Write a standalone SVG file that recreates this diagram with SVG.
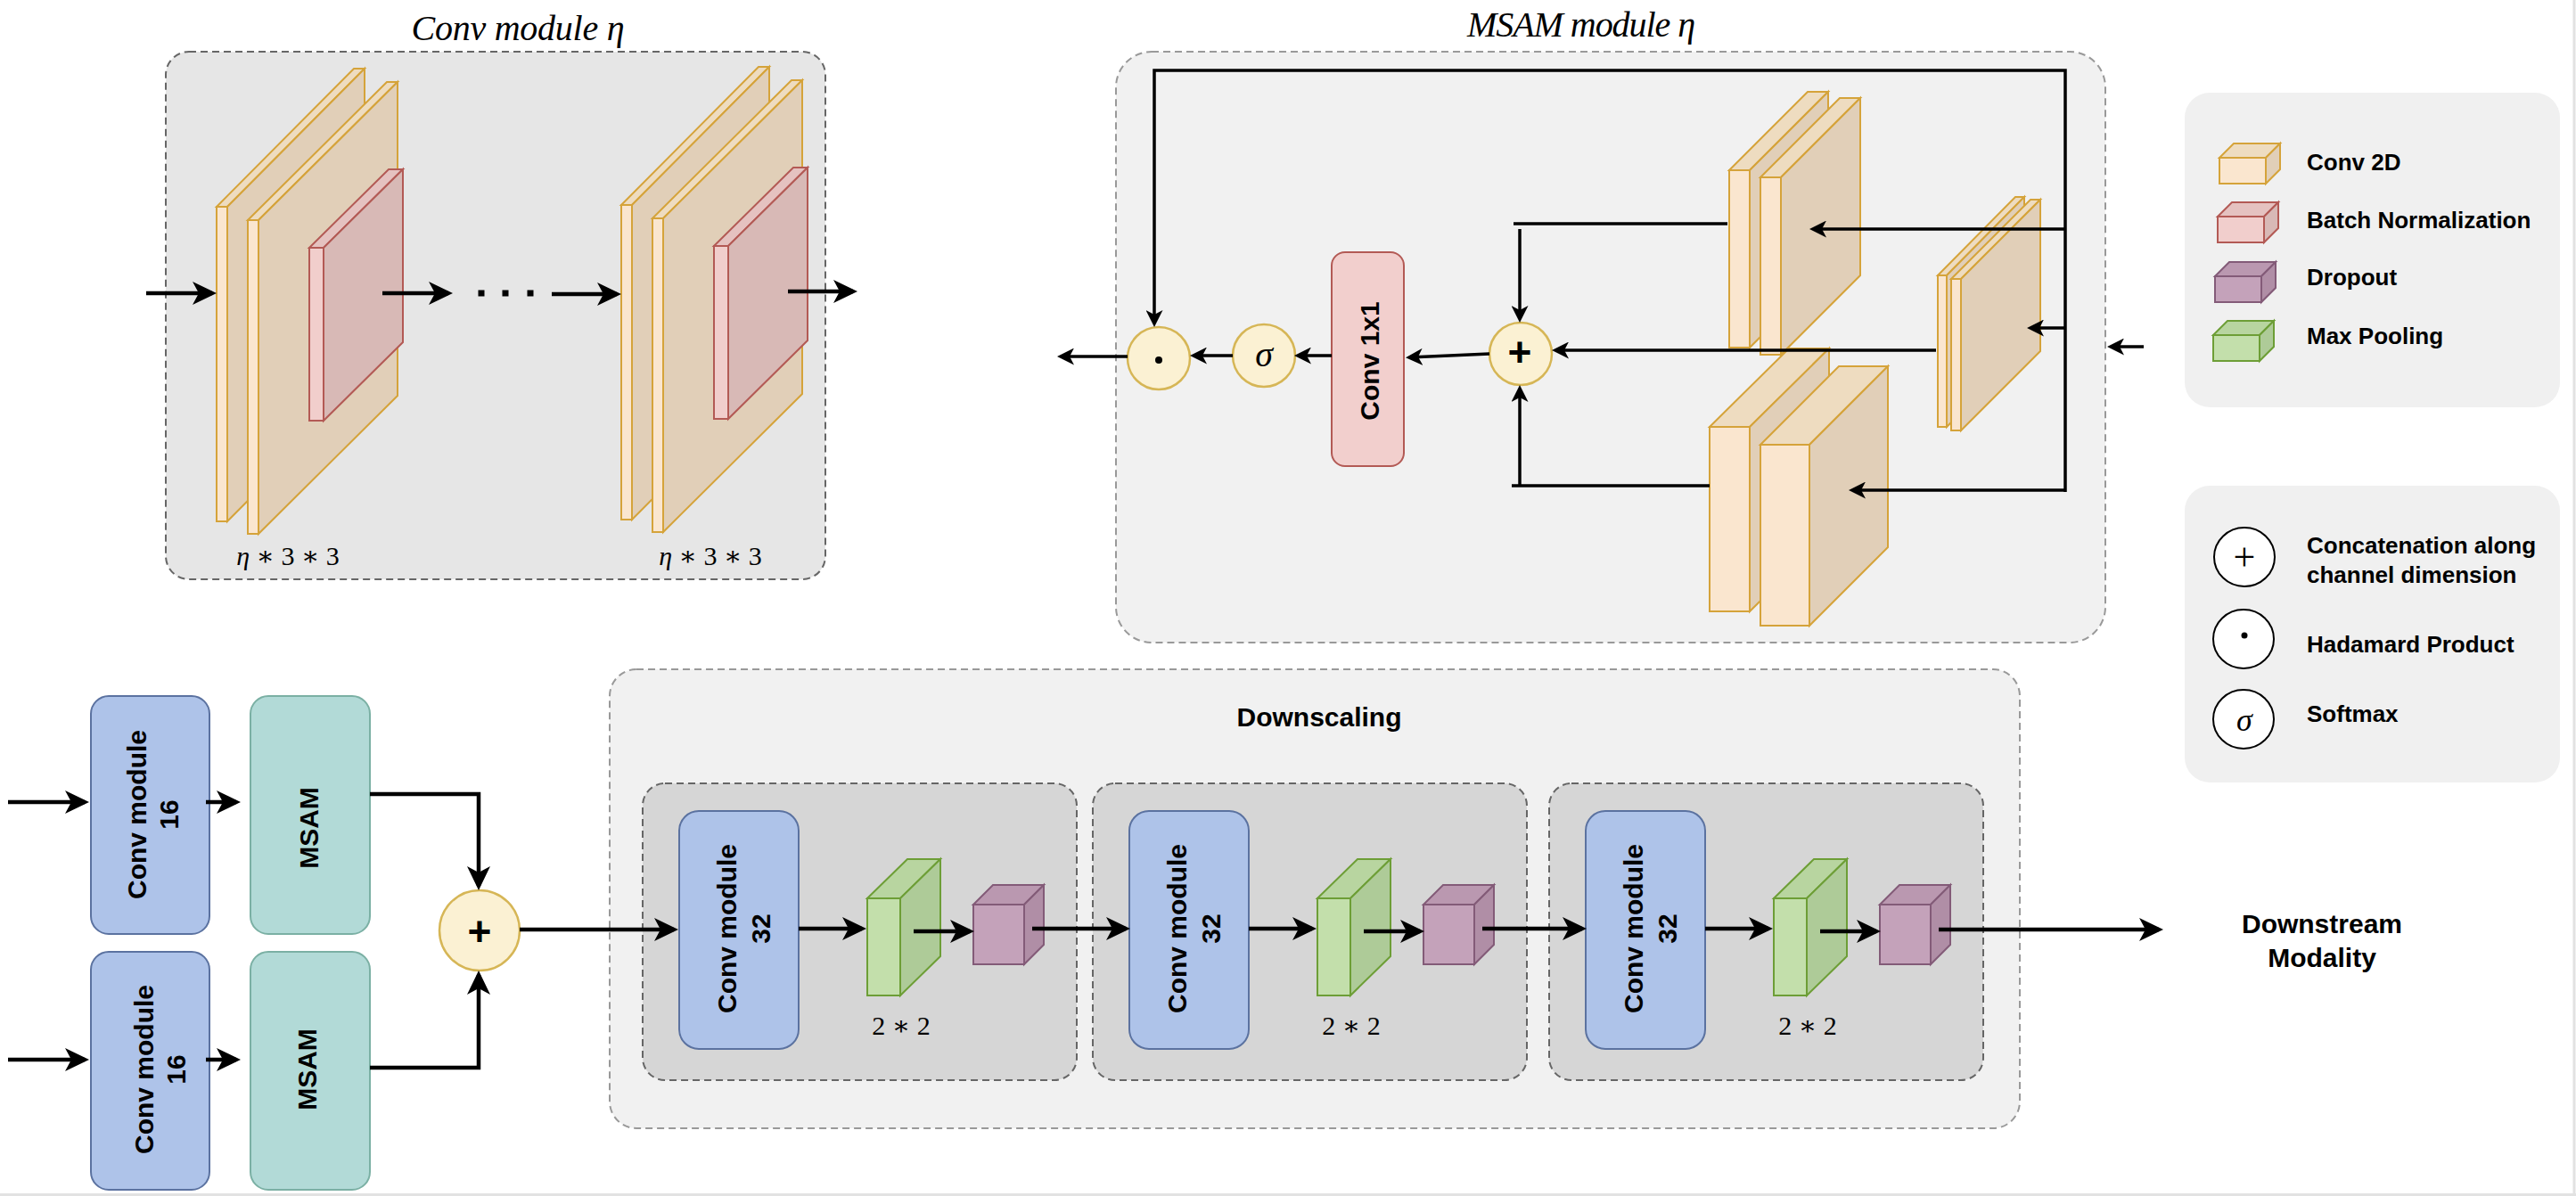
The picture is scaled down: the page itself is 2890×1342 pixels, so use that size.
<svg xmlns="http://www.w3.org/2000/svg" width="2890" height="1342" viewBox="0 0 2890 1342">
<style>
.sans{font-family:"Liberation Sans",Arial,sans-serif;font-weight:bold;fill:#000}
.serif{font-family:"Liberation Serif","DejaVu Serif",serif;fill:#000}
.it{font-style:italic}
.cf{fill:#FAE6CF;stroke:#D5A33A;stroke-width:2}
.ct{fill:#EEDCC0;stroke:#D5A33A;stroke-width:2}
.cs{fill:#E1CFB8;stroke:#D5A33A;stroke-width:2}
.rf{fill:#F1CECC;stroke:#B35A55;stroke-width:2}
.rt{fill:#E5C2C0;stroke:#B35A55;stroke-width:2}
.rs{fill:#D8B9B6;stroke:#B35A55;stroke-width:2}
.gf{fill:#C3DFAB;stroke:#6D9E36;stroke-width:2}
.gt{fill:#B8D5A0;stroke:#6D9E36;stroke-width:2}
.gs{fill:#AECB98;stroke:#6D9E36;stroke-width:2}
.pf{fill:#C4A2BA;stroke:#835B78;stroke-width:2}
.pt{fill:#BA98B0;stroke:#835B78;stroke-width:2}
.ps{fill:#B08EA6;stroke:#835B78;stroke-width:2}
.blue{fill:#AEC3E9;stroke:#5B72A0;stroke-width:2}
.teal{fill:#B2DAD7;stroke:#7BB0A4;stroke-width:2}
.yc{fill:#FBF1D3;stroke:#D6B656;stroke-width:2.5}
.lc{fill:#fff;stroke:#000;stroke-width:2}
.big{fill:none;stroke:#000;stroke-width:4.5}
.sm{fill:none;stroke:#000;stroke-width:3.5}
</style>
<defs>
<marker id="a" markerUnits="userSpaceOnUse" markerWidth="27" markerHeight="26" viewBox="0 0 27 26" refX="22" refY="13" orient="auto"><path d="M0,0 L27,13 L0,26 L7,13 Z" fill="#000"/></marker>
<marker id="s" markerUnits="userSpaceOnUse" markerWidth="19" markerHeight="19" viewBox="0 0 19 19" refX="15" refY="9.5" orient="auto"><path d="M0,0 L19,9.5 L0,19 L5,9.5 Z" fill="#000"/></marker>
</defs>
<rect x="0" y="0" width="2890" height="1342" fill="#fff"/>
<line x1="2888" y1="0" x2="2888" y2="1342" stroke="#E2E2E2" stroke-width="3"/>
<line x1="0" y1="1340.5" x2="2890" y2="1340.5" stroke="#E2E2E2" stroke-width="3"/>

<!-- Conv module eta -->
<g id="conv-module">
<text class="serif it" x="581" y="45" font-size="40" text-anchor="middle" textLength="239">Conv module η</text>
<rect x="186" y="58" width="740" height="592" rx="26" fill="#E6E6E6" stroke="#666" stroke-width="2" stroke-dasharray="8 5"/>
<g id="conv-stack-1">
<path class="ct" d="M243,232 L397,77 L409,77 L255,232 Z"/>
<path class="cs" d="M255,232 L409,77 L409,430 L255,585 Z"/>
<rect class="cf" x="243" y="232" width="12" height="353"/>
<path class="ct" d="M278,247 L434,92 L446,92 L290,247 Z"/>
<path class="cs" d="M290,247 L446,92 L446,444 L290,599 Z"/>
<rect class="cf" x="278" y="247" width="12" height="352"/>
<path class="rt" d="M347,278 L436,190 L452,190 L363,278 Z"/>
<path class="rs" d="M363,278 L452,190 L452,384 L363,472 Z"/>
<rect class="rf" x="347" y="278" width="16" height="194"/>
</g>
<g id="conv-stack-2" transform="translate(454,-2)">
<path class="ct" d="M243,232 L397,77 L409,77 L255,232 Z"/>
<path class="cs" d="M255,232 L409,77 L409,430 L255,585 Z"/>
<rect class="cf" x="243" y="232" width="12" height="353"/>
<path class="ct" d="M278,247 L434,92 L446,92 L290,247 Z"/>
<path class="cs" d="M290,247 L446,92 L446,444 L290,599 Z"/>
<rect class="cf" x="278" y="247" width="12" height="352"/>
<path class="rt" d="M347,278 L436,190 L452,190 L363,278 Z"/>
<path class="rs" d="M363,278 L452,190 L452,384 L363,472 Z"/>
<rect class="rf" x="347" y="278" width="16" height="194"/>
</g>
<text class="serif" x="323" y="634" font-size="30" text-anchor="middle"><tspan class="it">η</tspan> ∗ 3 ∗ 3</text>
<text class="serif" x="797" y="634" font-size="30" text-anchor="middle"><tspan class="it">η</tspan> ∗ 3 ∗ 3</text>
<rect x="536.5" y="325.5" width="7" height="7" fill="#000"/>
<rect x="563.5" y="325.5" width="7" height="7" fill="#000"/>
<rect x="591.5" y="325.5" width="7" height="7" fill="#000"/>
</g>

<!-- MSAM module eta -->
<g id="msam-module">
<text class="serif it" x="1774" y="41" font-size="40" text-anchor="middle" textLength="256">MSAM module η</text>
<rect x="1252" y="58" width="1110" height="663" rx="40" fill="#F1F1F1" stroke="#999" stroke-width="2" stroke-dasharray="8 5"/>
<g id="msam-stack-bottom">
<path class="ct" d="M1918,479 L2007,391 L2052,391 L1963,479 Z"/>
<path class="cs" d="M1963,479 L2052,391 L2052,598 L1963,686 Z"/>
<rect class="cf" x="1918" y="479" width="45" height="207"/>
<path class="ct" d="M1975,499 L2063,411 L2118,411 L2030,499 Z"/>
<path class="cs" d="M2030,499 L2118,411 L2118,614 L2030,702 Z"/>
<rect class="cf" x="1975" y="499" width="55" height="203"/>
</g>
<g id="msam-stack-top">
<path class="ct" d="M1940,191 L2028,103 L2051,103 L1963,191 Z"/>
<path class="cs" d="M1963,191 L2051,103 L2051,302 L1963,390 Z"/>
<rect class="cf" x="1940" y="191" width="23" height="199"/>
<path class="ct" d="M1975,199 L2064,110 L2087,110 L1998,199 Z"/>
<path class="cs" d="M1998,199 L2087,110 L2087,309 L1998,398 Z"/>
<rect class="cf" x="1975" y="199" width="23" height="199"/>
</g>
<g id="msam-stack-middle">
<path class="ct" d="M2174,309 L2261,221 L2271,221 L2184,309 Z"/>
<path class="cs" d="M2184,309 L2271,221 L2271,391 L2184,479 Z"/>
<rect class="cf" x="2174" y="309" width="10" height="170"/>
<path class="ct" d="M2189,313 L2278,224 L2289,224 L2200,313 Z"/>
<path class="cs" d="M2200,313 L2289,224 L2289,394 L2200,483 Z"/>
<rect class="cf" x="2189" y="313" width="11" height="170"/>
</g>
<g id="conv1x1">
<rect x="1494" y="283" width="81" height="240" rx="15" fill="#F2CFCD" stroke="#B35A55" stroke-width="2"/>
<text class="sans" font-size="30" text-anchor="middle" transform="translate(1534.5,405) rotate(-90)" x="0" y="12">Conv 1x1</text>
</g>
<g id="msam-concat">
<circle class="yc" cx="1706" cy="397" r="35"/>
<text class="sans" x="1705" y="411" font-size="46" text-anchor="middle">+</text>
</g>
<g id="msam-softmax">
<circle class="yc" cx="1418" cy="399" r="35"/>
<text class="serif it" x="1418" y="411" font-size="40" text-anchor="middle">σ</text>
</g>
<g id="msam-hadamard">
<circle class="yc" cx="1300" cy="402" r="35"/>
<circle cx="1300" cy="404" r="4" fill="#000"/>
</g>
</g>

<!-- Legends -->
<g id="legend-layers">
<rect x="2451" y="104" width="421" height="353" rx="28" fill="#F0F0F0"/>
<path class="ct" d="M2490,177 L2506,161 L2558,161 L2542,177 Z"/>
<path class="cs" d="M2542,177 L2558,161 L2558,190 L2542,206 Z"/>
<rect class="cf" x="2490" y="177" width="52" height="29"/>
<path class="rt" d="M2488,243 L2504,227 L2556,227 L2540,243 Z"/>
<path class="rs" d="M2540,243 L2556,227 L2556,256 L2540,272 Z"/>
<rect class="rf" x="2488" y="243" width="52" height="29"/>
<path class="pt" d="M2485,310 L2501,294 L2553,294 L2537,310 Z"/>
<path class="ps" d="M2537,310 L2553,294 L2553,323 L2537,339 Z"/>
<rect class="pf" x="2485" y="310" width="52" height="29"/>
<path class="gt" d="M2483,376 L2499,360 L2551,360 L2535,376 Z"/>
<path class="gs" d="M2535,376 L2551,360 L2551,389 L2535,405 Z"/>
<rect class="gf" x="2483" y="376" width="52" height="29"/>
<text class="sans" x="2588" y="191" font-size="26">Conv 2D</text>
<text class="sans" x="2588" y="256" font-size="26">Batch Normalization</text>
<text class="sans" x="2588" y="320" font-size="26">Dropout</text>
<text class="sans" x="2588" y="386" font-size="26">Max Pooling</text>
</g>
<g id="legend-ops">
<rect x="2451" y="545" width="421" height="333" rx="28" fill="#F0F0F0"/>
<ellipse class="lc" cx="2518" cy="625" rx="34" ry="33"/>
<text class="serif" x="2518" y="640" font-size="44" text-anchor="middle">+</text>
<ellipse class="lc" cx="2517" cy="717" rx="34" ry="33"/>
<circle cx="2518" cy="713" r="3.5" fill="#000"/>
<ellipse class="lc" cx="2517" cy="807" rx="34" ry="33"/>
<text class="serif it" x="2518" y="820" font-size="36" text-anchor="middle">σ</text>
<text class="sans" x="2588" y="621" font-size="26">Concatenation along</text>
<text class="sans" x="2588" y="654" font-size="26">channel dimension</text>
<text class="sans" x="2588" y="732" font-size="26">Hadamard Product</text>
<text class="sans" x="2588" y="810" font-size="26">Softmax</text>
</g>

<!-- Bottom-left branch -->
<g id="conv16-top">
<rect class="blue" x="102" y="781" width="133" height="267" rx="20"/>
<text class="sans" font-size="30" text-anchor="middle" transform="translate(168.5,914) rotate(-90)"><tspan x="0" y="-5">Conv module</tspan><tspan x="0" y="31">16</tspan></text>
</g>
<g id="conv16-bottom">
<rect class="blue" x="102" y="1068" width="133" height="267" rx="20"/>
<text class="sans" font-size="30" text-anchor="middle" transform="translate(168.5,1200) rotate(-90)"><tspan x="0" y="3">Conv module</tspan><tspan x="0" y="39">16</tspan></text>
</g>
<g id="msam-top">
<rect class="teal" x="281" y="781" width="134" height="267" rx="20"/>
<text class="sans" font-size="30" text-anchor="middle" transform="translate(348,929) rotate(-90)" x="0" y="9">MSAM</text>
</g>
<g id="msam-bottom">
<rect class="teal" x="281" y="1068" width="134" height="267" rx="20"/>
<text class="sans" font-size="30" text-anchor="middle" transform="translate(348,1200) rotate(-90)" x="0" y="7">MSAM</text>
</g>
<g id="concat-main">
<circle class="yc" cx="538" cy="1044" r="45"/>
<text class="sans" x="538" y="1061" font-size="46" text-anchor="middle">+</text>
</g>

<!-- Downscaling -->
<g id="downscaling">
<rect x="684" y="751" width="1582" height="515" rx="30" fill="#F1F1F1" stroke="#999" stroke-width="2" stroke-dasharray="8 5"/>
<text class="sans" x="1480" y="815" font-size="30" text-anchor="middle">Downscaling</text>
<g id="ds-block-1">
<rect x="721" y="879" width="487" height="333" rx="25" fill="#D6D6D6" stroke="#666" stroke-width="2" stroke-dasharray="8 5"/>
<rect class="blue" x="762" y="910" width="134" height="267" rx="22"/>
<text class="sans" font-size="30" text-anchor="middle" transform="translate(829,1042) rotate(-90)"><tspan x="0" y="-3">Conv module</tspan><tspan x="0" y="35">32</tspan></text>
<path class="gt" d="M973,1008 L1018,964 L1055,964 L1010,1008 Z"/>
<path class="gs" d="M1010,1008 L1055,964 L1055,1073 L1010,1117 Z"/>
<rect class="gf" x="973" y="1008" width="37" height="109"/>
<path class="pt" d="M1092,1015 L1114,993 L1171,993 L1149,1015 Z"/>
<path class="ps" d="M1149,1015 L1171,993 L1171,1060 L1149,1082 Z"/>
<rect class="pf" x="1092" y="1015" width="57" height="67"/>
<text class="serif" x="1011" y="1161" font-size="30" text-anchor="middle">2 ∗ 2</text>
</g>
<g id="ds-block-2" transform="translate(505,0)">
<rect x="721" y="879" width="487" height="333" rx="25" fill="#D6D6D6" stroke="#666" stroke-width="2" stroke-dasharray="8 5"/>
<rect class="blue" x="762" y="910" width="134" height="267" rx="22"/>
<text class="sans" font-size="30" text-anchor="middle" transform="translate(829,1042) rotate(-90)"><tspan x="0" y="-3">Conv module</tspan><tspan x="0" y="35">32</tspan></text>
<path class="gt" d="M973,1008 L1018,964 L1055,964 L1010,1008 Z"/>
<path class="gs" d="M1010,1008 L1055,964 L1055,1073 L1010,1117 Z"/>
<rect class="gf" x="973" y="1008" width="37" height="109"/>
<path class="pt" d="M1092,1015 L1114,993 L1171,993 L1149,1015 Z"/>
<path class="ps" d="M1149,1015 L1171,993 L1171,1060 L1149,1082 Z"/>
<rect class="pf" x="1092" y="1015" width="57" height="67"/>
<text class="serif" x="1011" y="1161" font-size="30" text-anchor="middle">2 ∗ 2</text>
</g>
<g id="ds-block-3" transform="translate(1017,0)">
<rect x="721" y="879" width="487" height="333" rx="25" fill="#D6D6D6" stroke="#666" stroke-width="2" stroke-dasharray="8 5"/>
<rect class="blue" x="762" y="910" width="134" height="267" rx="22"/>
<text class="sans" font-size="30" text-anchor="middle" transform="translate(829,1042) rotate(-90)"><tspan x="0" y="-3">Conv module</tspan><tspan x="0" y="35">32</tspan></text>
<path class="gt" d="M973,1008 L1018,964 L1055,964 L1010,1008 Z"/>
<path class="gs" d="M1010,1008 L1055,964 L1055,1073 L1010,1117 Z"/>
<rect class="gf" x="973" y="1008" width="37" height="109"/>
<path class="pt" d="M1092,1015 L1114,993 L1171,993 L1149,1015 Z"/>
<path class="ps" d="M1149,1015 L1171,993 L1171,1060 L1149,1082 Z"/>
<rect class="pf" x="1092" y="1015" width="57" height="67"/>
<text class="serif" x="1011" y="1161" font-size="30" text-anchor="middle">2 ∗ 2</text>
</g>
</g>
<g id="downstream">
<text class="sans" x="2605" y="1047" font-size="30" text-anchor="middle">Downstream</text>
<text class="sans" x="2605" y="1085" font-size="30" text-anchor="middle">Modality</text>
</g>

<!-- Connectors -->
<g id="connectors">
<path class="big" marker-end="url(#a)" d="M164,329 H238"/>
<path class="big" marker-end="url(#a)" d="M429,329 H503"/>
<path class="big" marker-end="url(#a)" d="M619,330 H692"/>
<path class="big" marker-end="url(#a)" d="M884,327 H957"/>
<path class="big" marker-end="url(#a)" d="M9,900 H95"/>
<path class="big" marker-end="url(#a)" d="M231,900 H265"/>
<path class="big" marker-end="url(#a)" d="M9,1189 H95"/>
<path class="big" marker-end="url(#a)" d="M231,1189 H265"/>
<path class="big" marker-end="url(#a)" d="M415,891 H537 V994"/>
<path class="big" marker-end="url(#a)" d="M415,1198 H537 V1094"/>
<path class="big" marker-end="url(#a)" d="M583,1043 H756"/>
<path class="big" marker-end="url(#a)" d="M896,1042 H967"/>
<path class="big" marker-end="url(#a)" d="M1025,1045 H1088"/>
<path class="big" marker-end="url(#a)" d="M1401,1042 H1472"/>
<path class="big" marker-end="url(#a)" d="M1530,1045 H1593"/>
<path class="big" marker-end="url(#a)" d="M1913,1042 H1984"/>
<path class="big" marker-end="url(#a)" d="M2042,1045 H2105"/>
<path class="big" marker-end="url(#a)" d="M1158,1042 H1263"/>
<path class="big" marker-end="url(#a)" d="M1663,1042 H1775"/>
<path class="big" marker-end="url(#a)" d="M2175,1043 H2422"/>
<path class="sm" marker-end="url(#s)" d="M2317,552 V79 H1295 V363"/>
<path class="sm" marker-end="url(#s)" d="M2317,257 H2034"/>
<path class="sm" marker-end="url(#s)" d="M2317,368 H2278"/>
<path class="sm" marker-end="url(#s)" d="M2317,550 H2078"/>
<path class="sm" d="M1938,251 H1698"/>
<path class="sm" marker-end="url(#s)" d="M1705,257 V358"/>
<path class="sm" marker-end="url(#s)" d="M2172,393 H1745"/>
<path class="sm" d="M1918,545 H1696"/>
<path class="sm" marker-end="url(#s)" d="M1705,545 V436"/>
<path class="sm" marker-end="url(#s)" d="M1671,397 L1581,401"/>
<path class="sm" marker-end="url(#s)" d="M1494,399 H1456"/>
<path class="sm" marker-end="url(#s)" d="M1383,399 H1339"/>
<path class="sm" marker-end="url(#s)" d="M1265,400 H1190"/>
<path class="sm" marker-end="url(#s)" d="M2405,389 H2368"/>
</g>
</svg>
